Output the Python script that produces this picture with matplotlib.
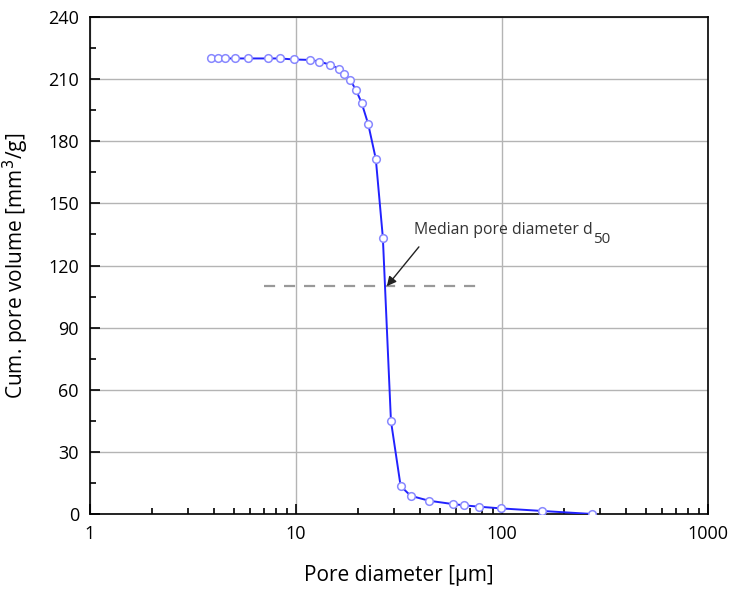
import matplotlib.pyplot as plt
from matplotlib.ticker import FixedLocator, NullFormatter
from matplotlib.transforms import offset_copy

plt.rcParams['font.family'] = ['Open Sans', 'DejaVu Sans']

# pore diameter [um] and cumulative pore volume [mm3/g]
diameter = [3.85, 4.2, 4.52, 5.06, 5.87, 7.34, 8.36, 9.78, 11.7, 13.0, 14.6,
            16.2, 17.1, 18.3, 19.5, 20.8, 22.4, 24.4, 26.4, 28.9, 32.2, 36.0,
            44.2, 57.6, 65.4, 77.6, 98.9, 157, 274]
volume = [220, 220, 220, 220, 220, 220, 220, 219.5, 219.3, 218.5, 217,
          215, 212.7, 209.7, 205, 198.7, 188.4, 171.5, 133.5, 44.9, 13.5, 8.8,
          6.4, 4.8, 4.2, 3.5, 2.7, 1.45, 0]

d50_level = 110
d50_range = [7, 80]
d50_point = (27.6, 110)
arrow_tail = (39.5, 129)
label_pos = (37.5, 137)

fig = plt.figure(figsize=(7.34, 5.98), dpi=100)
ax = fig.add_axes([0.1226, 0.1405, 0.842, 0.831])

ax.plot(diameter, volume, color='#2222ff', lw=1.4, marker='o', ms=5.5,
        mfc='white', mec='#8888ff', mew=1.1, zorder=3)
ax.plot(d50_range, [d50_level, d50_level], color='#999999', lw=1.6,
        dashes=(5, 4), zorder=2)

# arrow and label
ax.annotate('', xy=d50_point, xytext=arrow_tail,
            arrowprops=dict(arrowstyle='-|>', color='#222222', lw=1,
                            shrinkA=0, shrinkB=0, mutation_scale=14))
lbl = ax.text(*label_pos, 'Median pore diameter d', fontsize=11.3,
              color='#333333', va='center', ha='left')

ax.set_xscale('log')
ax.set_xlim(1, 1000)
ax.set_ylim(0, 240)
ax.yaxis.set_major_locator(FixedLocator(range(0, 241, 30)))
ax.yaxis.set_minor_locator(FixedLocator(range(15, 240, 30)))
ax.xaxis.set_minor_formatter(NullFormatter())
ax.set_xticks([1, 10, 100, 1000])
ax.set_xticklabels(['1', '10', '100', '1000'])

ax.grid(True, which='major', color='#b4b4b4', lw=1)
ax.set_axisbelow(True)
ax.tick_params(which='both', direction='in', labelsize=13, colors='black')
ax.tick_params(which='major', length=7, width=1.2, pad=8)
ax.tick_params(which='minor', length=4, width=1.2)
for s in ax.spines.values():
    s.set_linewidth(1.2)

ax.set_xlabel('Pore diameter [µm]', fontsize=15, labelpad=16)
ax.set_ylabel('Cum. pore volume [mm$^3$/g]', fontsize=15, labelpad=12)

# subscript "50" placed right after the label text
fig.canvas.draw()
bb = lbl.get_window_extent()
x_end, _ = ax.transData.inverted().transform((bb.x1, bb.y0))
ax.text(x_end, label_pos[1], '50', fontsize=11, color='#333333', va='top',
        ha='left', transform=offset_copy(ax.transData, fig=fig, x=0, y=-1,
                                         units='points'))

fig.savefig('out.png', dpi=100)
